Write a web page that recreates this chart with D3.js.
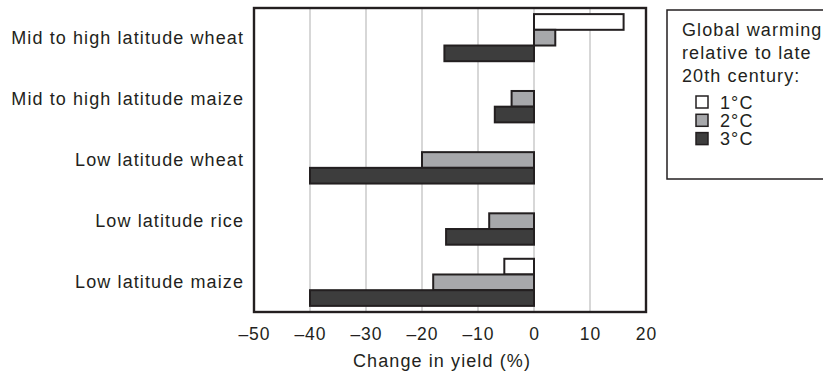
<!DOCTYPE html>
<html><head><meta charset="utf-8">
<script src="https://cdn.jsdelivr.net/npm/d3@7"></script>
<style>body{margin:0;background:#fff}svg{display:block}text{font-family:"Liberation Sans",Arial,sans-serif;fill:#231f20}</style>
</head><body><svg id="c" width="823" height="375"></svg>
<script>
const categories = ["Mid to high latitude wheat","Mid to high latitude maize","Low latitude wheat","Low latitude rice","Low latitude maize"];
const seriesNames = ["1°C","2°C","3°C"];
const warm1 = [16, null, null, null, -5.3];
const warm2 = [3.8, -4, -20, -8, -18];
const warm3 = [-16, -7, -40, -15.7, -40];
const tickValues = [-50,-40,-30,-20,-10,0,10,20];
const tickLabels = ["–50","–40","–30","–20","–10","0","10","20"];
const colors = ["#ffffff","#a7a8ab","#3d3d3d"];
const legendTitle = ["Global warming","relative to late","20th century:"];

const FS = 18, LS = 1.1;
const svg = d3.select("#c");
const L=254,R=646,T=8,B=312;
const x = d3.scaleLinear().domain([-50,20]).range([L,R]);
const y = d3.scaleBand().domain(categories).range([T,B]).paddingInner(0.23).paddingOuter(0.1);
const ys = d3.scaleBand().domain(seriesNames).range([0,y.bandwidth()]);

// grid
svg.append("g").selectAll("line").data(tickValues.slice(1,-1)).join("line")
  .attr("x1",d=>x(d)).attr("x2",d=>x(d)).attr("y1",T).attr("y2",B)
  .attr("stroke","#bdbdbd").attr("stroke-width",1.2);

const series = [warm1,warm2,warm3];
series.forEach((vals,si)=>{
  svg.append("g").selectAll("rect").data(categories.map((c,i)=>({c,v:vals[i]})).filter(d=>d.v!==null)).join("rect")
    .attr("x",d=>x(Math.min(0,d.v))).attr("width",d=>Math.abs(x(d.v)-x(0)))
    .attr("y",d=>y(d.c)+ys(seriesNames[si])).attr("height",ys.bandwidth())
    .attr("fill",colors[si]).attr("stroke","#231f20").attr("stroke-width",2);
});

// frame
svg.append("rect").attr("x",L).attr("y",T).attr("width",R-L).attr("height",B-T)
  .attr("fill","none").attr("stroke","#231f20").attr("stroke-width",2.4);

// x axis labels
svg.append("g").selectAll("text").data(tickValues).join("text")
  .attr("x",d=>x(d)+0.5).attr("y",340).attr("text-anchor","middle").attr("font-size",17.5).attr("letter-spacing",1)
  .text((d,i)=>tickLabels[i]);
svg.append("text").attr("x",442).attr("y",367).attr("text-anchor","middle").attr("font-size",FS).attr("letter-spacing",LS).text("Change in yield (%)");

// category labels
svg.append("g").selectAll("text").data(categories).join("text")
  .attr("x",244).attr("y",d=>y(d)+y.bandwidth()/2+6)
  .attr("text-anchor","end").attr("font-size",FS).attr("letter-spacing",LS).text(d=>d);

// legend
svg.append("rect").attr("x",667).attr("y",10).attr("width",170).attr("height",169)
  .attr("fill","none").attr("stroke","#231f20").attr("stroke-width",1.5);
svg.append("g").selectAll("text").data(legendTitle).join("text")
  .attr("x",682).attr("y",(d,i)=>35.5+i*23.3).attr("font-size",FS).attr("letter-spacing",LS).text(d=>d);
const lg = svg.append("g").selectAll("g").data(seriesNames).join("g")
  .attr("transform",(d,i)=>`translate(696,${96+i*18.3})`);
lg.append("rect").attr("width",12).attr("height",12).attr("fill",(d,i)=>colors[i]).attr("stroke","#231f20").attr("stroke-width",1.5);
lg.append("text").attr("x",24).attr("y",12.5).attr("font-size",FS).attr("letter-spacing",LS).text(d=>d);
</script></body></html>
